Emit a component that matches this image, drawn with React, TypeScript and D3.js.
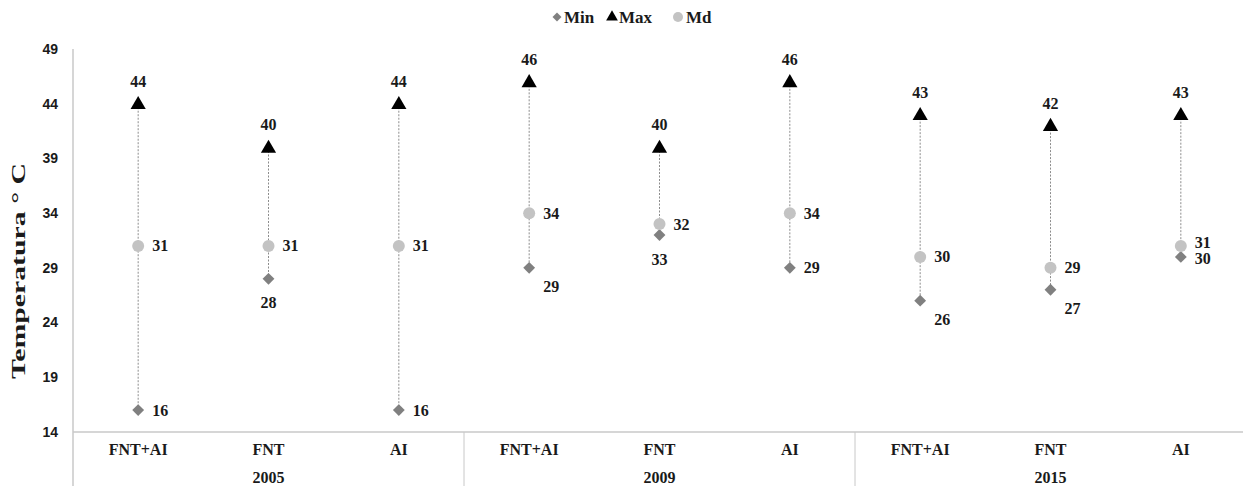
import React from "react";
import * as d3 from "d3";

const categories = ["FNT+AI", "FNT", "AI", "FNT+AI", "FNT", "AI", "FNT+AI", "FNT", "AI"];
const years = ["2005", "2009", "2015"];
const minValues = [16, 28, 16, 29, 32, 29, 26, 27, 30];
const maxValues = [44, 40, 44, 46, 40, 46, 43, 42, 43];
const mdValues = [31, 31, 31, 34, 33, 34, 30, 29, 31];
const minLabels = ["16", "28", "16", "29", "33", "29", "26", "27", "30"];
const maxLabels = ["44", "40", "44", "46", "40", "46", "43", "42", "43"];
const mdLabels = ["31", "31", "31", "34", "32", "34", "30", "29", "31"];
const minLabelPlacement = ["right", "below", "right", "belowRight", "below", "right", "belowRight", "belowRight", "right"];
const yTicks = [14, 19, 24, 29, 34, 39, 44, 49];

const W = 1243;
const H = 486;
const SERIF = "'Liberation Serif', 'Times New Roman', serif";
const SANS = "'Liberation Sans', Arial, sans-serif";

export default function App() {
  const x = d3.scaleBand<number>().domain(d3.range(categories.length)).range([73, 1246]).padding(0);
  const y = d3.scaleLinear().domain([14, 49]).range([432, 49]);
  const cx = (i: number) => (x(i) as number) + x.bandwidth() / 2;
  const axisColor = "#c8c8c8";
  const minColor = "#808080";
  const mdColor = "#c3c3c3";
  const textColor = "#1a1a1a";
  const triangle = d3.symbol().type(d3.symbolTriangle).size(100)() as string;
  const diamond = d3.symbol().type(d3.symbolSquare).size(70)() as string;

  const minOffset = (p: string) => {
    if (p === "below") return { dx: 0, dy: 24, anchor: "middle" };
    if (p === "belowRight") return { dx: 13, dy: 19, anchor: "start" };
    return { dx: 13, dy: 0, anchor: "start" };
  };

  return (
    <svg width={W} height={H} style={{ display: "block", position: "absolute", left: 0, top: 0 }} fontFamily={SERIF}>
      <rect width={W} height={H} fill="#fff" />
      {/* legend */}
      <g fontWeight="bold" fontSize={17} fill={textColor}>
        <path d={d3.symbol().type(d3.symbolSquare).size(40)() as string} transform="translate(557,17) rotate(45)" fill={minColor} />
        <text x={564} y={23}>Min</text>
        <path d={d3.symbol().type(d3.symbolTriangle).size(60)() as string} transform="translate(612,17)" fill="#000" />
        <text x={619} y={23}>Max</text>
        <circle cx={678} cy={17} r={5} fill={mdColor} />
        <text x={686} y={23}>Md</text>
      </g>
      {/* y axis ticks */}
      <g fontWeight="bold" fontSize={14} fill={textColor} fontFamily={SANS}>
        {yTicks.map((t) => (
          <text key={t} x={58} y={y(t)} dy="0.35em" textAnchor="end">
            {t}
          </text>
        ))}
      </g>
      <text
        transform={`translate(25,271) rotate(-90)`}
        textAnchor="middle"
        fontWeight="bold"
        fontSize={18}
        fill={textColor}
        textLength={216}
        lengthAdjust="spacingAndGlyphs"
      >
        Temperatura ° C
      </text>
      {/* axes */}
      <line x1={73} x2={73} y1={y(49)} y2={H} stroke={axisColor} strokeWidth={1.5} />
      <line x1={73} x2={W} y1={y(14)} y2={y(14)} stroke={axisColor} strokeWidth={1.5} />
      {years.map((yr, g) => {
        const left = x(g * 3) as number;
        const right = (x(g * 3 + 2) as number) + x.bandwidth();
        return (
          <g key={yr}>
            {g > 0 && <line x1={left} x2={left} y1={y(14)} y2={H} stroke={axisColor} strokeWidth={1} />}
            <text x={(left + right) / 2} y={483} textAnchor="middle" fontWeight="bold" fontSize={16} fill={textColor}>
              {yr}
            </text>
          </g>
        );
      })}
      {categories.map((c, i) => (
        <text key={i} x={cx(i)} y={455} textAnchor="middle" fontWeight="bold" fontSize={16} fill={textColor}>
          {c}
        </text>
      ))}
      {/* range lines */}
      {categories.map((_, i) => (
        <line
          key={"l" + i}
          x1={cx(i)}
          x2={cx(i)}
          y1={y(maxValues[i])}
          y2={y(Math.min(minValues[i], mdValues[i]))}
          stroke="#8c8c8c"
          strokeWidth={1}
          strokeDasharray="2,1.5"
        />
      ))}
      {/* markers */}
      {categories.map((_, i) => (
        <g key={"m" + i}>
          <path d={diamond} transform={`translate(${cx(i)},${y(minValues[i])}) rotate(45)`} fill={minColor} />
          <circle cx={cx(i)} cy={y(mdValues[i])} r={6} fill={mdColor} />
          <path d={triangle} transform={`translate(${cx(i)},${y(maxValues[i]) + 1})`} fill="#000" />
        </g>
      ))}
      {/* labels */}
      <g fontWeight="bold" fontSize={16} fill={textColor}>
        {categories.map((_, i) => {
          const o = minOffset(minLabelPlacement[i]);
          const tight = Math.abs(minValues[i] - mdValues[i]) <= 1 && minLabelPlacement[i] === "right";
          return (
            <g key={"t" + i}>
              <text x={cx(i)} y={y(maxValues[i]) - 17} textAnchor="middle">
                {maxLabels[i]}
              </text>
              <text x={cx(i) + 14} y={y(mdValues[i]) + (tight ? 2 : 5.5)}>
                {mdLabels[i]}
              </text>
              <text x={cx(i) + o.dx + (o.anchor === "start" ? 1 : 0)} y={y(minValues[i]) + o.dy + (tight ? 7 : 5.5)} textAnchor={o.anchor}>
                {minLabels[i]}
              </text>
            </g>
          );
        })}
      </g>
    </svg>
  );
}
